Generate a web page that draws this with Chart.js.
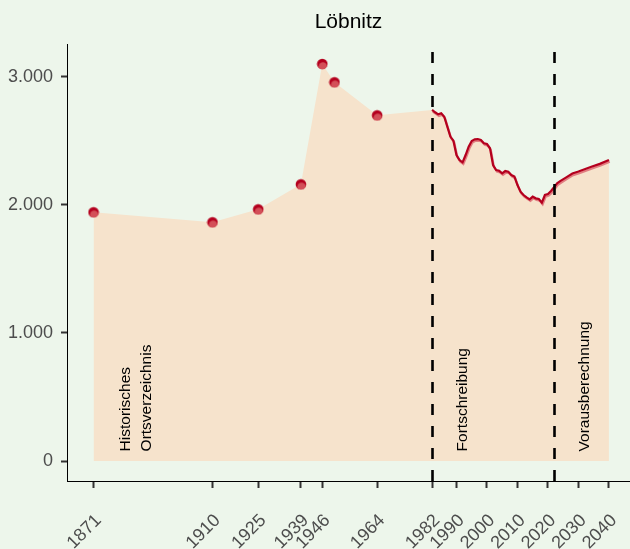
<!DOCTYPE html>
<html>
<head>
<meta charset="utf-8">
<script src="https://cdn.jsdelivr.net/npm/chart.js@4.4.1/dist/chart.umd.min.js"></script>
<style>
  html, body { margin: 0; padding: 0; background: #EDF6EB; overflow: hidden; }
  canvas { display: block; }
</style>
</head>
<body>
<canvas id="chart" width="630" height="549"></canvas>
<script>
// Löbnitz – Einwohner (Historisches Ortsverzeichnis / Fortschreibung / Vorausberechnung)
const histYears = [1871, 1910, 1925, 1939, 1946, 1950, 1964];
const histPop   = [1942, 1864, 1965, 2160, 3100, 2957, 2699];

const fortYears = [1982, 1983, 1984, 1985, 1986, 1987, 1988, 1989, 1990, 1991,
                   1992, 1993, 1994, 1995, 1996, 1997, 1998, 1999, 2000, 2001,
                   2002, 2003, 2004, 2005, 2006, 2007, 2008, 2009, 2010, 2011,
                   2012, 2013, 2014, 2015, 2016, 2017, 2018, 2019, 2020, 2021, 2022];
const fortPop   = [2741, 2723, 2707, 2715, 2688, 2611, 2533, 2501, 2389, 2350,
                   2332, 2389, 2454, 2499, 2512, 2514, 2507, 2481, 2475, 2442,
                   2311, 2272, 2266, 2246, 2264, 2259, 2233, 2221, 2155, 2103,
                   2077, 2059, 2043, 2064, 2051, 2046, 2017, 2077, 2085, 2108, 2137];

const projYears = [2022, 2023, 2024, 2026, 2028, 2030, 2034, 2037, 2040];
const projPop   = [2137, 2168, 2185, 2215, 2245, 2260, 2295, 2320, 2350];

const xTicks = [1871, 1910, 1925, 1939, 1946, 1964, 1982, 1990, 2000, 2010, 2020, 2030, 2040];
const yTicks = [0, 1000, 2000, 3000];

const breakYears = [1982, 2022];
const noteX    = [1885, 1992, 2032];
const noteText = [['Historisches', 'Ortsverzeichnis'], ['Fortschreibung'], ['Vorausberechnung']];
const noteY    = 75;

const FONT = "'Liberation Sans', Arial, sans-serif";
const BG = '#EDF6EB';
const AREA = '#F6E3CC';
const RED = '#B4001E';

const pts = (xs, ys) => xs.map((x, i) => ({ x, y: ys[i] }));
const areaData = pts(histYears, histPop)
  .concat(pts(fortYears, fortPop))
  .concat(pts(projYears.slice(1), projPop.slice(1)));
const lineData = pts(fortYears, fortPop).concat(pts(projYears.slice(1), projPop.slice(1)));

// two-tone dot like the reference
const dot = document.createElement('canvas');
dot.width = 12; dot.height = 12;
(() => {
  const g = dot.getContext('2d');
  g.fillStyle = RED;
  g.beginPath(); g.arc(6, 6, 5.3, 0, Math.PI * 2); g.fill();
  g.save();
  g.beginPath(); g.arc(6, 6, 5.3, 0, Math.PI * 2); g.clip();
  g.fillStyle = 'rgba(214,88,94,0.9)';
  g.beginPath(); g.arc(6.6, 8.4, 4.2, 0, Math.PI * 2); g.fill();
  g.restore();
})();

const fmt = v => String(v).replace(/\B(?=(\d{3})+$)/g, '.');

const bgPlugin = {
  id: 'bg',
  beforeDraw(c) {
    const ctx = c.ctx;
    ctx.save();
    ctx.fillStyle = BG;
    ctx.fillRect(0, 0, c.width, c.height);
    ctx.restore();
  }
};

const halo = {
  id: 'halo',
  beforeDatasetDraw(c, args) {
    if (args.index !== 1) return;
    const ctx = c.ctx;
    ctx.save();
    ctx.shadowColor = 'rgba(220,100,110,0.8)';
    ctx.shadowOffsetX = 0.8;
    ctx.shadowOffsetY = 1.6;
    ctx.shadowBlur = 0;
  },
  afterDatasetDraw(c, args) {
    if (args.index === 1) c.ctx.restore();
  }
};

const overlay = {
  id: 'overlay',
  afterDatasetsDraw(c) {
    const ctx = c.ctx, x = c.scales.x, y = c.scales.y, a = c.chartArea;
    ctx.save();
    // dashed breaks
    ctx.strokeStyle = '#000';
    ctx.lineWidth = 2.6;
    ctx.setLineDash([11, 11]);
    breakYears.forEach(yr => {
      const px = Math.round(x.getPixelForValue(yr)) + 0.5;
      ctx.beginPath();
      ctx.moveTo(px, a.bottom);
      ctx.lineTo(px, a.top);
      ctx.stroke();
    });
    ctx.setLineDash([]);
    // rotated notes
    ctx.fillStyle = '#000';
    ctx.font = '15.5px ' + FONT;
    ctx.textAlign = 'left';
    ctx.textBaseline = 'middle';
    const py = y.getPixelForValue(noteY);
    noteX.forEach((nx, i) => {
      const lines = noteText[i];
      const cx = x.getPixelForValue(nx);
      lines.forEach((t, j) => {
        const off = (j - (lines.length - 1) / 2) * 21.7;
        ctx.save();
        ctx.translate(cx + off, py);
        ctx.rotate(-Math.PI / 2);
        ctx.fillText(t, 0, 0);
        ctx.restore();
      });
    });
    ctx.restore();
  }
};

new Chart(document.getElementById('chart'), {
  type: 'line',
  data: {
    datasets: [
      {
        data: areaData,
        fill: 'origin',
        backgroundColor: AREA,
        borderWidth: 0,
        pointRadius: 0,
        tension: 0,
        order: 3
      },
      {
        data: lineData,
        fill: false,
        borderColor: RED,
        borderWidth: 2.2,
        pointRadius: 0,
        tension: 0,
        order: 2
      },
      {
        data: pts(histYears, histPop),
        showLine: false,
        pointStyle: dot,
        pointRadius: 5,
        order: 1
      }
    ]
  },
  options: {
    responsive: false,
    devicePixelRatio: 1,
    animation: false,
    layout: { autoPadding: false, padding: 0 },
    plugins: {
      legend: { display: false },
      tooltip: { enabled: false },
      title: {
        display: true,
        text: 'Löbnitz',
        fullSize: false,
        color: '#000',
        font: { family: FONT, size: 21, weight: 'normal', lineHeight: 1.2 },
        padding: { top: 10, bottom: 8.8 }
      }
    },
    scales: {
      x: {
        type: 'linear',
        min: 1862.3,
        max: 2046.9,
        afterBuildTicks: s => { s.ticks = xTicks.map(v => ({ value: v })); },
        afterFit: s => { s.height = 68; s.paddingLeft = 0; s.paddingRight = 0; },
        ticks: {
          autoSkip: false,
          minRotation: 45,
          maxRotation: 45,
          padding: 22,
          labelOffset: 5,
          color: '#4D4D4D',
          font: { family: FONT, size: 18 },
          callback: v => String(v)
        },
        grid: { drawOnChartArea: false, drawTicks: true, tickLength: 7, tickColor: '#333', tickWidth: 2 },
        border: { display: true, color: '#000', width: 1 }
      },
      y: {
        type: 'linear',
        min: -156,
        max: 3256,
        afterBuildTicks: s => { s.ticks = yTicks.map(v => ({ value: v })); },
        afterFit: s => { s.width = 67; s.paddingTop = 0; s.paddingBottom = 0; },
        ticks: {
          padding: 8,
          color: '#4D4D4D',
          font: { family: FONT, size: 18 },
          callback: v => fmt(v)
        },
        grid: { drawOnChartArea: false, drawTicks: true, tickLength: 6, tickColor: '#333', tickWidth: 2 },
        border: { display: true, color: '#000', width: 1 }
      }
    }
  },
  plugins: [bgPlugin, halo, overlay]
});
</script>
</body>
</html>
